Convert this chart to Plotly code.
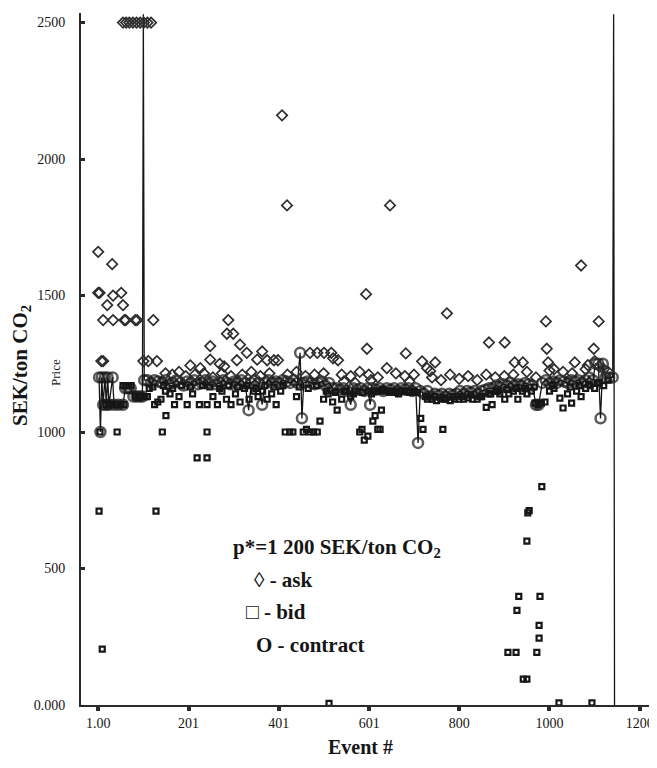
import plotly.graph_objects as go

# ---------------- data ----------------
ask_event = [56, 63, 70, 78, 86, 94, 102, 110, 118,
             408, 419, 647, 1, 32, 1, 4, 34, 52, 21, 56, 12, 34, 59, 62, 83, 87, 123,
             594, 773, 992, 1109, 1070,
             289, 286, 300, 249, 315, 330, 364, 596, 682, 866, 901, 994, 1098,
             470, 486, 501, 517, 521,
             8, 12, 101, 112, 131, 249, 308, 353, 375, 390, 399, 532, 718, 747, 729, 736,
             923, 941, 997, 1056, 205, 227, 640, 270, 280,
             150, 165, 180, 195, 215, 235, 255, 275, 295, 320, 340, 360, 380, 420, 440, 460,
             480, 500, 540, 560, 580, 600, 620, 660, 680, 700, 740, 760, 780, 800, 820, 840,
             860, 880, 900, 920, 950, 970, 1010, 1030, 1050, 1080, 1110, 1120, 1130,
             545, 570, 605, 690, 1000, 1085, 1100]
ask_price = [2500, 2500, 2500, 2500, 2500, 2500, 2500, 2500, 2500,
             2160, 1830, 1830, 1660, 1615, 1510, 1510, 1500, 1510, 1465, 1465, 1410, 1410, 1410, 1410, 1410, 1410, 1410,
             1505, 1435, 1405, 1405, 1610,
             1410, 1360, 1360, 1315, 1320, 1290, 1295, 1305, 1288, 1328, 1328, 1305, 1305,
             1290, 1290, 1290, 1290, 1270,
             1260, 1260, 1260, 1260, 1260, 1265, 1263, 1265, 1263, 1263, 1263, 1263, 1259, 1255, 1234, 1223,
             1255, 1255, 1255, 1255, 1244, 1234, 1234, 1250, 1240,
             1215, 1210, 1220, 1205, 1210, 1215, 1200, 1215, 1205, 1210, 1220, 1205, 1215, 1210, 1220, 1205,
             1210, 1215, 1210, 1205, 1220, 1210, 1200, 1215, 1205, 1210, 1200, 1190, 1210, 1195, 1205, 1190,
             1210, 1200, 1205, 1210, 1220, 1200, 1230, 1220, 1215, 1230, 1240, 1230, 1220,
             1185, 1180, 1190, 1185, 1225, 1245, 1260]

bid_event = [3, 10, 5, 43, 18, 24, 30, 38, 44, 52, 58, 56, 62, 68, 74, 84, 90, 96, 104, 110,
             129, 143, 151, 220, 242, 242, 126, 133, 140, 150, 160, 170, 180, 198, 210, 225,
             242, 255, 265, 275, 285, 295, 305, 315, 325, 335, 345, 355, 365, 375, 385, 395,
             405, 415, 425, 432, 440, 455, 462, 470, 478, 486, 492, 500, 510, 520, 530, 540,
             550, 560, 570,
             580, 585, 590, 598, 609, 614, 620, 625, 628, 600, 610, 620, 630, 640, 650, 660,
             670, 680, 690, 700, 715, 720, 730, 740, 750, 760, 764, 770, 780, 790, 800, 810,
             820, 830, 840, 850, 860, 870, 873, 882, 890, 901, 910, 920, 930, 940, 950, 960,
             968, 975, 982, 990, 1000, 1010, 1023, 1030, 1040, 1049, 1060, 1070, 1080, 1090,
             1100, 1110, 1120, 1130,
             114, 122, 146, 166, 186, 205, 232, 248, 270, 290, 310, 330, 350, 370, 390, 410,
             446, 466, 484, 506, 526, 546, 566, 586, 606, 626, 646, 666, 686, 706, 726, 746,
             766, 786, 806, 826, 846, 866, 886, 906, 926, 946, 966, 1006, 1046, 1066, 1086, 1106,
             983, 952, 955, 950, 932, 979, 928, 977, 977, 908, 926, 972, 942, 950, 1021, 1094, 512]
bid_price = [710, 205, 1000, 1000, 1100, 1100, 1100, 1100, 1100, 1100, 1100, 1170, 1170, 1170, 1170, 1130, 1130, 1130, 1130, 1130,
             710, 1000, 1060, 905, 905, 1000, 1100, 1110, 1120, 1150, 1140, 1100, 1130, 1100, 1140, 1100,
             1100, 1130, 1100, 1150, 1120, 1100, 1140, 1110, 1160, 1120, 1150, 1130, 1150, 1120, 1140, 1100,
             1150, 1000, 1000, 1000, 1130, 1000, 1010, 1000, 1000, 1000, 1040, 1120, 1140, 1110, 1080, 1120,
             1150, 1130, 1150,
             1000, 1010, 970, 985, 1040, 1060, 1010, 1010, 1080, 1150, 1150, 1150, 1155, 1150, 1150, 1145,
             1150, 1150, 1145, 1150, 1050, 1010, 1120, 1120, 1115, 1120, 1010, 1120, 1115, 1120, 1120, 1120,
             1125, 1120, 1120, 1130, 1090, 1140, 1100, 1150, 1140, 1120, 1140, 1150, 1120, 1150, 1140, 1150,
             1106, 1100, 1106, 1110, 1150, 1160, 1124, 1088, 1140, 1106, 1150, 1130, 1160, 1170,
             1160, 1180, 1170, 1190,
             1160, 1165, 1170, 1160, 1170, 1165, 1170, 1165, 1160, 1170, 1165, 1170, 1160, 1170, 1165, 1170,
             1165, 1160, 1170, 1150, 1145, 1150, 1140, 1145, 1140, 1150, 1145, 1140, 1150, 1145, 1130, 1130,
             1125, 1130, 1130, 1135, 1130, 1140, 1150, 1155, 1160, 1160, 1165, 1170, 1165, 1170, 1175, 1180,
             800, 704, 712, 600, 398, 398, 347, 292, 245, 193, 193, 193, 95, 95, 8, 8, 6]

contract_event = [3, 6, 9, 12, 16, 19, 22, 25, 33, 36, 46, 56, 61, 67, 73, 79, 86, 93, 99, 101, 103,
                  110, 118, 126, 134, 142, 150, 158, 166, 174, 182, 190, 198, 206, 214, 222, 230,
                  238, 246, 254, 262, 270, 278, 286, 294, 302, 310, 318, 326, 334, 340, 348, 356,
                  364, 370, 378, 386, 394, 402, 410, 418, 426, 434, 442, 448, 452, 456, 464, 472,
                  480, 488, 496, 504, 512, 520,
                  528, 536, 544, 552, 560, 566, 574, 582, 590, 598, 603, 608, 616, 624, 632, 640,
                  648, 656, 664, 672, 680, 688, 696, 704, 709, 714, 722, 730, 738, 746, 754, 762,
                  770, 778, 786, 794, 802, 810, 818, 826, 834, 842, 850, 858, 866, 874,
                  882, 890, 898, 906, 914, 922, 930, 938, 946, 954, 962, 970, 976, 984, 992, 1000,
                  1008, 1016, 1024, 1032, 1040, 1048, 1056, 1064, 1072, 1080, 1088, 1096, 1102,
                  1108, 1113, 1118, 1124, 1132, 1140, 1142, 1144]
contract_price = [1200, 1000, 1200, 1100, 1200, 1100, 1200, 1100, 1200, 1100, 1100, 1100, 1160, 1160, 1160, 1130, 1130, 1130, 1130, 2530, 1190,
                  1190, 1180, 1190, 1185, 1180, 1190, 1175, 1180, 1190, 1180, 1170, 1185, 1180, 1190, 1175, 1180,
                  1190, 1180, 1185, 1175, 1180, 1190, 1180, 1175, 1185, 1180, 1190, 1180, 1080, 1180, 1190, 1180,
                  1100, 1180, 1190, 1180, 1185, 1180, 1190, 1185, 1180, 1190, 1180, 1290, 1050, 1180, 1185, 1180,
                  1175, 1180, 1185, 1170, 1180, 1160,
                  1160, 1155, 1160, 1150, 1100, 1160, 1155, 1160, 1150, 1160, 1100, 1160, 1155, 1160, 1150, 1160,
                  1155, 1160, 1150, 1160, 1155, 1160, 1150, 1160, 960, 1150, 1140, 1150, 1130, 1140, 1135, 1140,
                  1130, 1140, 1135, 1140, 1150, 1140, 1150, 1145, 1150, 1140, 1150, 1155, 1160, 1160,
                  1170, 1165, 1175, 1170, 1180, 1170, 1175, 1170, 1180, 1175, 1170, 1100, 1100, 1180, 1190, 1180,
                  1185, 1180, 1190, 1185, 1180, 1190, 1185, 1190, 1180, 1190, 1200, 1190, 1250,
                  1250, 1050, 1250, 1200, 1200, 1200, 2530, 0]

x_tick_vals = [1, 201, 401, 601, 800, 1000, 1200]
x_tick_text = ["1.00", "201", "401", "601", "800", "1000", "1200"]
y_tick_vals = [0, 500, 1000, 1500, 2000, 2500]
y_tick_text = ["0.000", "500", "1000", "1500", "2000", "2500"]

# ---------------- figure ----------------
INK = "#161616"
FONT = "Liberation Serif"

fig = go.Figure()

# contract markers hidden on the line-only end points (off-scale spikes)
c_sizes = [0 if (p > 2500 or p == 0) else 10 for p in contract_price]

fig.add_trace(go.Scatter(
    x=contract_event, y=contract_price, mode="lines+markers",
    line=dict(color=INK, width=1.3),
    marker=dict(symbol="circle-open", size=c_sizes, color=INK, line=dict(width=2.5)),
    name="contract", showlegend=False, cliponaxis=False))

fig.add_trace(go.Scatter(
    x=bid_event, y=bid_price, mode="markers",
    marker=dict(symbol="square-open", size=5, color=INK, line=dict(width=2.2)),
    name="bid", showlegend=False, cliponaxis=False))

fig.add_trace(go.Scatter(
    x=ask_event, y=ask_price, mode="markers",
    marker=dict(symbol="diamond-open", size=8, color="#2e2e2e", line=dict(width=1.7)),
    name="ask", showlegend=False, cliponaxis=False))

# the page body adds an 8px offset; work in screen pixels and compensate
OFF = 8
W, H = 657 - OFF, 768 - 2 * OFF
L = 81 - OFF          # screen x of the y axis = 81
T = 13 - OFF          # screen y of plot top = 13
BOTTOM = 705 - OFF    # screen y of the zero line = 705
B = H - BOTTOM
pw, ph = W - L, BOTTOM - T

def px(xs):
    return (xs - OFF - L) / pw

def py(ys):
    return (BOTTOM - (ys - OFF)) / ph

ann = [
    dict(text="<b>SEK/ton CO<sub>2</sub></b>", x=px(21), y=py(366), textangle=-90,
         font=dict(size=21, family=FONT, color=INK), xanchor="center", yanchor="middle"),
    dict(text="Price", x=px(55), y=py(373), textangle=-90,
         font=dict(size=13, family=FONT, color=INK), xanchor="center", yanchor="middle"),
    dict(text="<b>Event #</b>", x=px(360), y=py(747),
         font=dict(size=20, family=FONT, color=INK), xanchor="center", yanchor="middle"),
    dict(text="<b>p*=1 200 SEK/ton CO<sub>2</sub></b>", x=px(231), y=py(548),
         font=dict(size=21, family=FONT, color=INK), xanchor="left", yanchor="middle"),
    dict(text="<b>\u25ca - ask</b>", x=px(252), y=py(580),
         font=dict(size=21, family=FONT, color=INK), xanchor="left", yanchor="middle"),
    dict(text="<b>\u25a1 - bid</b>", x=px(244), y=py(612),
         font=dict(size=21, family=FONT, color=INK), xanchor="left", yanchor="middle"),
    dict(text="<b>O - contract</b>", x=px(254), y=py(645),
         font=dict(size=21, family=FONT, color=INK), xanchor="left", yanchor="middle"),
]
for a in ann:
    a.update(xref="paper", yref="paper", showarrow=False)

fig.update_layout(
    template="none",
    width=W, height=H,
    margin=dict(l=L, r=0, t=T, b=B, autoexpand=False),
    paper_bgcolor="white", plot_bgcolor="white",
    font=dict(family=FONT, color=INK),
    annotations=ann,
    showlegend=False,
    xaxis=dict(range=[-37, 1238], showgrid=False, zeroline=False, automargin=False,
               showline=True, linecolor="#2a2a2a", linewidth=2,
               tickmode="array", tickvals=x_tick_vals, ticktext=x_tick_text,
               ticks="outside", ticklen=4, tickwidth=4, tickcolor="#2a2a2a",
               ticklabeloverflow="allow",
               tickfont=dict(size=14, family=FONT, color=INK)),
    yaxis=dict(range=[0, 2535], showgrid=False, zeroline=False, automargin=False,
               showline=True, linecolor="#2a2a2a", linewidth=2,
               tickmode="array", tickvals=y_tick_vals, ticktext=y_tick_text,
               ticks="inside", ticklen=4, tickwidth=3, tickcolor="#2a2a2a",
               ticklabelstandoff=11,
               tickfont=dict(size=14, family=FONT, color=INK)),
)

fig.write_html("out.html")
